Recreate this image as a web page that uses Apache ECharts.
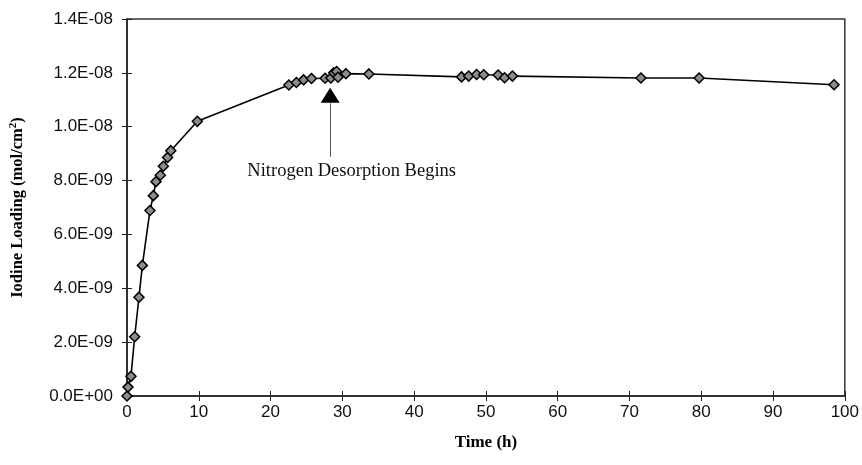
<!DOCTYPE html>
<html>
<head>
<meta charset="utf-8">
<script src="https://cdn.jsdelivr.net/npm/echarts@6/dist/echarts.min.js"></script>
<style>
  html, body { margin: 0; padding: 0; background: #fff; }
  #chart { width: 862px; height: 465px; }
</style>
</head>
<body>
<div id="chart"></div>
<script>
// time (h)
var times = [0, 0.14, 0.55, 1.07, 1.67, 2.14, 3.2, 3.67, 4.03, 4.64, 5.06, 5.65, 6.1, 9.8,
    22.55, 23.6, 24.6, 25.7, 27.6, 28.4, 28.8, 29.2, 29.4, 30.5, 33.7,
    46.6, 47.6, 48.7, 49.7, 51.7, 52.6, 53.7, 71.6, 79.7, 98.5];
// iodine loading, units of 1E-09 mol/cm2
var loading = [0, 0.33, 0.73, 2.2, 3.67, 4.85, 6.89, 7.44, 7.96, 8.2, 8.53, 8.86, 9.11, 10.2,
    11.55, 11.64, 11.74, 11.79, 11.8, 11.81, 12.0, 12.05, 11.84, 11.97, 11.96,
    11.85, 11.88, 11.94, 11.93, 11.92, 11.82, 11.88, 11.81, 11.81, 11.56];
var xTicks = [0, 10, 20, 30, 40, 50, 60, 70, 80, 90, 100];
var yTicks = ['0.0E+00', '2.0E-09', '4.0E-09', '6.0E-09', '8.0E-09', '1.0E-08', '1.2E-08', '1.4E-08'];

var annotTime = 28.3;
var annotText = 'Nitrogen Desorption Begins';

function sciLabel(v) {
    var i = Math.round(v / 2e-9);
    return yTicks[i] || '';
}

var points = times.map(function (t, i) { return [t, loading[i] * 1e-9]; });

var myChart = echarts.init(document.getElementById('chart'));

var option = {
    backgroundColor: '#fff',
    animation: false,
    grid: {
        left: 124, right: 17, top: 19, bottom: 69,
        show: true, borderColor: '#333', borderWidth: 1.5, backgroundColor: 'transparent'
    },
    xAxis: [{
        type: 'value',
        min: 0, max: 100, interval: 10,
        name: 'Time (h)',
        nameLocation: 'middle',
        nameGap: 38,
        nameTextStyle: { fontFamily: 'Liberation Serif', fontWeight: 'bold', fontSize: 17, color: '#000' },
        axisLine: { lineStyle: { color: '#222', width: 1.5 } },
        axisTick: { lineStyle: { color: '#222' }, length: 5 },
        axisLabel: { fontFamily: 'Liberation Sans', fontSize: 17, color: '#111', margin: 8 },
        splitLine: { show: false }
    }, {
        type: 'value',
        position: 'bottom',
        min: 0, max: 100, interval: 10,
        axisLine: { show: false },
        axisTick: { inside: true, length: 5, lineStyle: { color: '#222' } },
        axisLabel: { show: false },
        splitLine: { show: false }
    }],
    yAxis: [{
        type: 'value',
        min: 0, max: 1.4e-8, interval: 2e-9,
        name: 'Iodine Loading (mol/cm{sup|2})',
        nameLocation: 'middle',
        nameRotate: 90,
        nameGap: 100,
        nameTextStyle: {
            fontFamily: 'Liberation Serif', fontWeight: 'bold', fontSize: 16.5, color: '#000',
            rich: { sup: { fontFamily: 'Liberation Serif', fontWeight: 'bold', fontSize: 11, verticalAlign: 'top', padding: [0, 0, 8, 0] } }
        },
        axisLine: { lineStyle: { color: '#222', width: 1.5 } },
        axisTick: { lineStyle: { color: '#222' }, length: 5 },
        axisLabel: { fontFamily: 'Liberation Sans', fontSize: 17, color: '#111', margin: 14, formatter: sciLabel },
        splitLine: { show: false }
    }, {
        type: 'value',
        position: 'left',
        min: 0, max: 1.4e-8, interval: 2e-9,
        axisLine: { show: false },
        axisTick: { inside: true, length: 5, lineStyle: { color: '#222' } },
        axisLabel: { show: false },
        splitLine: { show: false }
    }],
    series: [{
        type: 'line',
        data: points,
        symbol: 'diamond',
        symbolSize: 10,
        showAllSymbol: true,
        lineStyle: { color: '#000', width: 1.6 },
        itemStyle: { color: '#8c8c8c', borderColor: '#000', borderWidth: 1.5 },
        markPoint: {
            silent: true,
            data: [{
                coord: [annotTime, 11.17e-9],
                symbol: 'triangle',
                symbolSize: [19, 15],
                itemStyle: { color: '#000', borderWidth: 0 },
                label: { show: false }
            }, {
                coord: [annotTime + 3, 8.35e-9],
                symbol: 'circle',
                symbolSize: 0,
                label: {
                    show: true, position: 'inside', formatter: annotText,
                    fontFamily: 'Liberation Serif', fontSize: 18.5, color: '#111'
                }
            }]
        },
        markLine: {
            silent: true,
            symbol: ['none', 'none'],
            label: { show: false },
            lineStyle: { color: '#555', width: 1, type: 'solid' },
            data: [[{ coord: [annotTime, 10.87e-9] }, { coord: [annotTime, 8.88e-9] }]]
        }
    }]
};
myChart.setOption(option);
</script>
</body>
</html>
